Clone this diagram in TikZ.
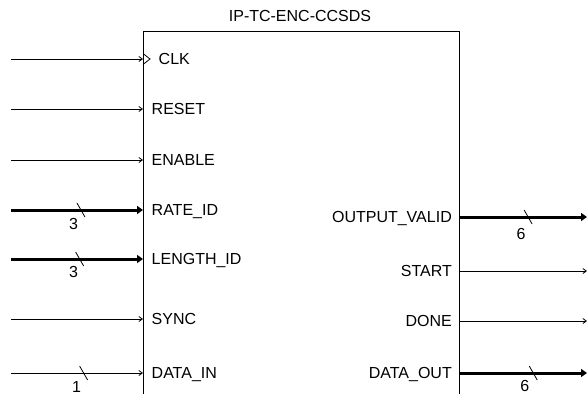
\documentclass[tikz,border=0pt]{standalone}
\usepackage{fontspec}
\setmainfont{Liberation Sans}
\usetikzlibrary{arrows.meta,positioning,calc}

\begin{document}
\begin{tikzpicture}[x=1pt,y=-1pt,font=\fontsize{16}{19}\selectfont,
  inport/.style={anchor=west,inner xsep=8.5pt,inner ysep=0pt,text height=11.5pt,text depth=0pt},
  outport/.style={anchor=east,inner xsep=7pt,inner ysep=0pt,text height=11.5pt,text depth=0pt},
  wire/.style={line width=0.8pt,-{Straight Barb[length=3.5pt,width=5pt]}},
  bus/.style={line width=3pt,-{Triangle[length=6pt,width=8pt]}},
  tick/.style={line width=0.8pt}]
\useasboundingbox (0,0) rectangle (587,394);
% block outline, open at the bottom
\draw[line width=0.8pt] (143,394) -- (143,31) -- (459,31) -- (459,394);
\node (title) at (300,16) {IP-TC-ENC-CCSDS};
% input ports
\node[inport,inner xsep=15.5pt] (clk) at (143,59) {CLK};
\node[inport] (rst) at (143,109) {RESET};
\node[inport] (en) at (143,160) {ENABLE};
\node[inport] (rate) at (143,210) {RATE\_ID};
\node[inport] (len) at (143,259) {LENGTH\_ID};
\node[inport] (sync) at (143,319) {SYNC};
\node[inport] (din) at (143,373) {DATA\_IN};
% output ports
\node[outport] (ov) at (459,217) {OUTPUT\_VALID};
\node[outport] (start) at (459,271) {START};
\node[outport] (done) at (459,321) {DONE};
\node[outport] (dout) at (459,373) {DATA\_OUT};
\draw[tick] (clk.west) ++(0,-5.5) -- ++(7,5.5) -- ++(-7,5.5);
\foreach \p in {clk,rst,en,rate,len,sync,din} \coordinate (\p-src) at (11,0 |- \p.west);
\foreach \p in {ov,start,done,dout} \coordinate (\p-dst) at (587,0 |- \p.east);
\foreach \p in {clk,rst,en,sync} \draw[wire] (\p-src) -- (\p.west);
\draw[wire] (din-src) -- coordinate[pos=0.55] (din-w) (din.west);
\draw[bus] (rate-src) -- coordinate[pos=0.53] (rate-w) (rate.west);
\draw[bus] (len-src) -- coordinate[pos=0.52] (len-w) (len.west);
\foreach \p in {start,done} \draw[wire] (\p.east) -- (\p-dst);
\draw[bus] (ov.east) -- coordinate[pos=0.54] (ov-w) (ov-dst);
\draw[bus] (dout.east) -- coordinate[pos=0.58] (dout-w) (dout-dst);
% bus width marks
\foreach \p/\n/\dx/\dy in {rate/3/-7.5/14,len/3/-6/13,din/1/-7/13.5,ov/6/-7/17,dout/6/-8.5/13}{
  \draw[tick] (\p-w) +(-4,-7) -- +(4,7);
  \node (\p-n) at ([shift={(\dx,\dy)}]\p-w) {\n};
}
\end{tikzpicture}
\end{document}
